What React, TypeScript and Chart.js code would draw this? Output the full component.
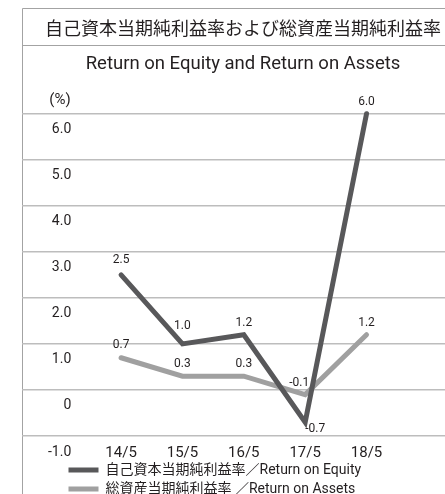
import { useEffect, useRef } from 'react';
import { Chart, registerables } from 'chart.js';

Chart.register(...registerables);

const titleText = '自己資本当期純利益率および総資産当期純利益率';
const subtitleText = 'Return on Equity and Return on Assets';
const unitText = '(%)';
const categories = ['14/5', '15/5', '16/5', '17/5', '18/5'];
const roeValues = [2.5, 1.0, 1.2, -0.7, 6.0];
const roaValues = [0.7, 0.3, 0.3, -0.1, 1.2];
const yTickLabels = ['-1.0', '0', '1.0', '2.0', '3.0', '4.0', '5.0', '6.0'];
const seriesNames = ['自己資本当期純利益率／Return on Equity', '総資産当期純利益率 ／Return on Assets'];

// value-label nudges (dx, dy) relative to default position above the point
const labelNudges: Record<string, [number, number]> = {
  '0-0': [0, -3],
  '0-1': [0, -6],
  '0-3': [10, 19],
  '1-0': [0, -1],
  '1-3': [-6, 0],
};

const TEXT = '#231f20';
const LATIN = 'Roboto, "Noto Sans CJK JP", sans-serif';
const CJK = '"Noto Sans CJK JP", sans-serif';

const framePlugin = {
  id: 'frame',
  afterLayout(chart: any) {
    if (chart.legend) {
      chart.legend.left = chart.chartArea.left + 41.5;
      chart.legend.top = chart.chartArea.bottom + 22;
    }
  },
  beforeDraw(chart: any) {
    const { ctx, chartArea } = chart;
    const left = Math.round(chartArea.left) + 0.5;
    const top = 8.5;
    const sep = Math.round(chart.titleBlock ? chart.titleBlock.bottom : 46) - 0.5;
    ctx.save();
    ctx.strokeStyle = '#a3a3a3';
    ctx.lineWidth = 1;
    ctx.beginPath();
    ctx.moveTo(left, top);
    ctx.lineTo(chart.width, top);
    ctx.moveTo(left, top);
    ctx.lineTo(left, chart.height);
    ctx.moveTo(left, sep);
    ctx.lineTo(chart.width, sep);
    ctx.stroke();
    ctx.fillStyle = TEXT;
    ctx.font = '15px ' + LATIN;
    ctx.textAlign = 'center';
    ctx.textBaseline = 'middle';
    ctx.fillText(unitText, chartArea.left + 38, chartArea.top - 14);
    ctx.restore();
  },
};

const valueLabelPlugin = {
  id: 'valueLabels',
  afterDatasetsDraw(chart: any) {
    const { ctx } = chart;
    ctx.save();
    ctx.fillStyle = TEXT;
    ctx.font = '12px ' + LATIN;
    ctx.textAlign = 'center';
    ctx.textBaseline = 'middle';
    chart.data.datasets.forEach((ds: any, di: number) => {
      const meta = chart.getDatasetMeta(di);
      meta.data.forEach((pt: any, i: number) => {
        const v = ds.data[i].y as number;
        const n = labelNudges[`${di}-${i}`] || [0, 0];
        ctx.fillText(v.toFixed(1), pt.x + n[0], pt.y - 12 + n[1]);
      });
    });
    ctx.restore();
  },
};

export default function App() {
  const ref = useRef<HTMLCanvasElement | null>(null);
  useEffect(() => {
    if (!ref.current) return;
    const chart = new Chart(ref.current, {
      type: 'line',
      data: {
        datasets: [
          {
            label: seriesNames[0],
            data: roeValues.map((y, i) => ({ x: i, y })),
            borderColor: '#58585a',
            backgroundColor: '#58585a',
            borderWidth: 5,
            borderCapStyle: 'round',
            pointRadius: 0,
            tension: 0,
            clip: false,
          },
          {
            label: seriesNames[1],
            data: roaValues.map((y, i) => ({ x: i, y })),
            borderColor: '#a0a0a0',
            backgroundColor: '#a0a0a0',
            borderWidth: 5,
            borderCapStyle: 'round',
            pointRadius: 0,
            tension: 0,
            clip: false,
          },
        ],
      },
      options: {
        responsive: false,
        animation: false,
        events: [],
        layout: { padding: { left: 22, right: -19, top: 8, bottom: -12 } },
        plugins: {
          title: {
            display: true,
            text: titleText,
            color: TEXT,
            font: { family: CJK, size: 18, weight: 'normal' },
            padding: { top: 9.5, bottom: 6.5 },
          },
          subtitle: {
            display: true,
            text: subtitleText,
            color: TEXT,
            font: { family: LATIN, size: 18.5, weight: 'normal' },
            padding: { top: 8, bottom: 38 },
          },
          legend: {
            position: 'bottom',
            align: 'start',
            labels: {
              usePointStyle: true,
              pointStyle: 'line',
              pointStyleWidth: 30,
              padding: 5,
              color: TEXT,
              font: { family: LATIN, size: 14 },
            },
          },
          tooltip: { enabled: false },
        },
        scales: {
          x: {
            type: 'linear',
            min: -1.615,
            max: 5.279,
            afterBuildTicks: (s: any) => {
              s.ticks = categories.map((_, i) => ({ value: i }));
            },
            afterFit: (s: any) => {
              s.height = 22;
            },
            ticks: {
              callback: (v: any) => categories[v] ?? '',
              color: TEXT,
              font: { family: LATIN, size: 15 },
              padding: 8,
              maxRotation: 0,
              autoSkip: false,
            },
            grid: { display: false, drawTicks: false },
            border: { display: false },
          },
          y: {
            min: -1,
            max: 6,
            afterFit: (s: any) => {
              s.width = 0;
            },
            ticks: {
              stepSize: 1,
              mirror: true,
              crossAlign: 'far',
              padding: 26,
              labelOffset: 16,
              callback: (_v: any, i: number) => yTickLabels[i],
              color: TEXT,
              font: { family: LATIN, size: 14 },
            },
            grid: { color: '#bdbdbd', lineWidth: 1.5, drawTicks: false },
            border: { display: false },
          },
        },
      },
      plugins: [framePlugin, valueLabelPlugin],
    } as any);
    return () => chart.destroy();
  }, []);
  return (
    <canvas
      ref={ref}
      width={445}
      height={494}
      style={{ position: 'fixed', left: 0, top: 0, display: 'block' }}
    />
  );
}
